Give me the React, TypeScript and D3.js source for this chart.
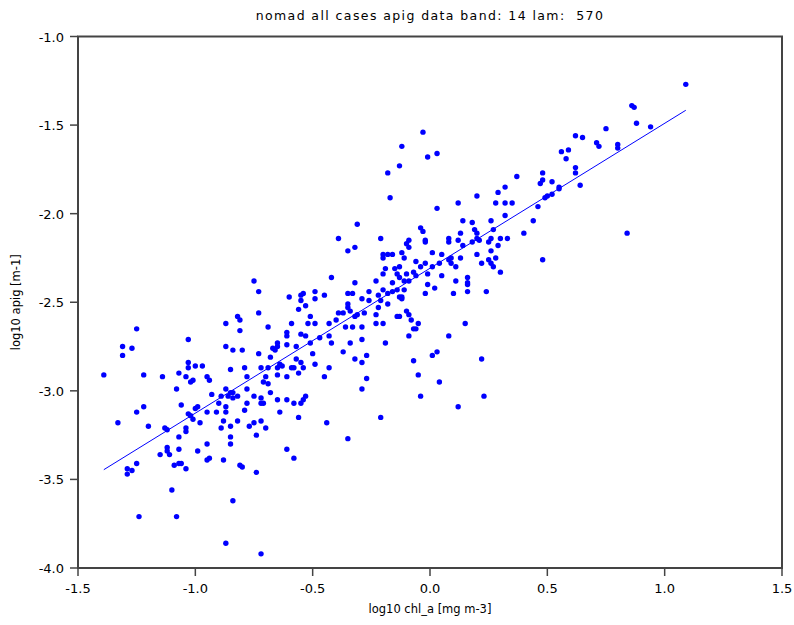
import React from 'react'
import * as d3 from 'd3'

// log10 chl_a vs log10 apig
const SAMPLES: [number, number][] = [
  [-0.12, -1.62], [-0.13, -1.73], [-0.18, -1.77], [-0.17, -1.91], [-0.31, -2.06],
  [-0.39, -2.14], [-0.21, -2.14], [-0.03, -1.54], [-0.01, -1.68], [0.03, -1.66],
  [0.37, -1.79], [0.48, -1.77], [0.48, -1.81], [0.47, -1.83], [0.52, -1.82],
  [0.32, -1.85], [0.29, -1.88], [0.2, -1.9], [0.28, -1.94], [0.32, -1.94],
  [0.35, -1.94], [0.12, -1.94], [0.03, -1.97], [0.46, -1.96], [0.49, -1.91],
  [0.5, -1.9], [0.52, -1.89], [0.32, -2.01], [0.14, -2.04], [0.18, -2.05],
  [0.26, -2.04], [0.27, -2.09], [0.19, -2.09], [0.2, -2.11], [-0.04, -2.08],
  [-0.03, -2.1], [0.13, -2.11], [0.44, -2.04], [0.4, -2.11], [0.08, -2.14],
  [-0.02, -2.15], [-0.09, -2.15], [0.26, -2.14], [0.3, -2.14], [0.33, -2.14],
  [0.2, -2.14],
  [1.09, -1.27], [0.86, -1.39], [0.87, -1.4], [0.88, -1.49], [0.94, -1.51],
  [0.75, -1.52], [0.62, -1.56], [0.65, -1.57], [0.71, -1.6], [0.72, -1.62],
  [0.8, -1.61], [0.8, -1.63], [0.56, -1.65], [0.59, -1.64], [0.58, -1.69],
  [0.62, -1.74], [0.62, -1.77], [0.55, -1.85], [0.55, -1.86], [0.64, -1.84],
  [0.84, -2.11],
  [-1.25, -2.65], [-1.31, -2.75], [-1.27, -2.76], [-1.31, -2.8], [-1.39, -2.91],
  [-1.22, -2.91], [-1.14, -2.92], [-1.08, -2.99], [-1.03, -2.71], [-1.03, -2.84],
  [-1.03, -2.87], [-1.07, -2.9], [-1.04, -2.92], [-1.0, -2.86], [-0.97, -2.86],
  [-1.01, -2.94], [-1.02, -2.95], [-0.95, -2.92], [-0.94, -2.94], [-0.93, -3.02],
  [-0.87, -2.62], [-0.82, -2.58], [-0.81, -2.6], [-0.81, -2.66], [-0.87, -2.75],
  [-0.84, -2.77], [-0.8, -2.77], [-0.85, -2.88], [-0.87, -2.99], [-0.89, -3.03],
  [-0.86, -3.03], [-0.85, -3.01], [-0.84, -3.01], [-0.82, -3.03], [-0.84, -3.04],
  [-1.33, -3.18], [-1.25, -3.12], [-1.22, -3.09], [-1.2, -3.2], [-1.06, -3.08],
  [-1.13, -3.21], [-1.12, -3.22], [-1.25, -3.41], [-1.29, -3.44], [-1.29, -3.47],
  [-1.27, -3.45], [-1.15, -3.36], [-1.12, -3.32], [-1.12, -3.34], [-1.11, -3.36],
  [-1.07, -3.33], [-1.07, -3.26], [-1.04, -3.23], [-1.04, -3.21], [-1.03, -3.13],
  [-1.02, -3.14], [-1.01, -3.16], [-1.0, -3.1], [-0.99, -3.09], [-0.98, -3.18],
  [-1.09, -3.42], [-1.07, -3.41], [-1.06, -3.41], [-1.04, -3.44], [-0.99, -3.34],
  [-0.95, -3.3], [-0.95, -3.39], [-0.94, -3.38], [-0.95, -3.12], [-0.91, -3.12],
  [-0.9, -3.07], [-0.87, -3.09], [-0.87, -3.12], [-0.88, -3.17], [-0.89, -3.21],
  [-0.85, -3.2], [-0.85, -3.26], [-0.85, -3.3], [-0.88, -3.39], [-0.82, -3.17],
  [-0.81, -3.42], [-0.8, -3.43], [-1.1, -3.56], [-0.84, -3.62], [-1.24, -3.71],
  [-1.08, -3.71], [-0.87, -3.86], [-0.79, -3.11],
  [-0.78, -3.07], [-0.72, -3.07], [-0.71, -3.07], [-0.65, -3.05], [-0.61, -3.05],
  [-0.58, -3.07], [-0.55, -3.07], [-0.54, -3.05], [-0.64, -3.12], [-0.56, -3.15],
  [-0.44, -3.18], [-0.21, -3.15], [-0.75, -3.18], [-0.72, -3.17], [-0.77, -3.2],
  [-0.7, -3.21], [-0.74, -3.25], [-0.35, -3.27], [-0.61, -3.33], [-0.58, -3.38],
  [-0.74, -3.46], [-0.72, -3.92], [0.12, -3.09],
  [0.48, -2.26], [0.24, -2.44], [0.15, -2.62], [0.08, -2.69], [0.22, -2.82],
  [-0.07, -2.83], [0.01, -2.8], [0.03, -2.78], [-0.05, -2.91], [0.04, -2.95],
  [-0.04, -3.03], [0.23, -3.03], [-0.1, -2.55], [-0.09, -2.57], [-0.08, -2.6],
  [-0.05, -2.62], [-0.07, -2.65], [-0.06, -2.65], [-0.09, -2.69], [-0.13, -2.58],
  [-0.13, -2.47], [-0.12, -2.48],
  [-0.1, -2.17], [-0.09, -2.19], [-0.12, -2.22], [-0.11, -2.25], [-0.06, -2.27],
  [-0.02, -2.16], [0.01, -2.22], [0.05, -2.23], [0.08, -2.16], [0.12, -2.15],
  [0.14, -2.18], [0.18, -2.16], [0.21, -2.15], [0.25, -2.16], [0.29, -2.18],
  [0.26, -2.21], [0.2, -2.23], [0.25, -2.26], [0.28, -2.25], [0.22, -2.28],
  [0.26, -2.28], [0.27, -2.3], [0.3, -2.33], [0.13, -2.25], [0.09, -2.25],
  [0.09, -2.28], [0.11, -2.3], [0.08, -2.26], [0.04, -2.28], [0.01, -2.3],
  [-0.02, -2.28], [-0.04, -2.3], [-0.07, -2.33], [-0.1, -2.34], [-0.13, -2.3],
  [-0.13, -2.36], [-0.11, -2.38], [-0.09, -2.38], [-0.06, -2.35], [-0.01, -2.34],
  [0.05, -2.35], [0.11, -2.38], [0.16, -2.36], [0.16, -2.39], [0.16, -2.4],
  [-0.01, -2.4], [0.02, -2.42], [0.1, -2.45], [0.16, -2.44], [-0.02, -2.45],
  [-0.11, -2.43], [-0.12, -2.47],
  [-0.35, -2.21], [-0.32, -2.19], [-0.2, -2.23], [-0.2, -2.25], [-0.18, -2.23],
  [-0.16, -2.23], [-0.19, -2.31], [-0.2, -2.34], [-0.15, -2.31], [-0.14, -2.34],
  [-0.42, -2.36], [-0.23, -2.38], [-0.16, -2.39], [-0.75, -2.38], [-0.73, -2.44],
  [-0.73, -2.56], [-0.6, -2.47], [-0.55, -2.46], [-0.54, -2.45], [-0.55, -2.49],
  [-0.49, -2.44], [-0.49, -2.48], [-0.45, -2.46], [-0.53, -2.52], [-0.56, -2.54],
  [-0.35, -2.45], [-0.33, -2.45], [-0.32, -2.39], [-0.35, -2.51], [-0.35, -2.53],
  [-0.34, -2.55], [-0.29, -2.48], [-0.26, -2.44], [-0.26, -2.49], [-0.2, -2.43],
  [-0.22, -2.46], [-0.21, -2.49], [-0.18, -2.45], [-0.16, -2.44], [-0.18, -2.51],
  [-0.14, -2.43], [-0.22, -2.53], [-0.23, -2.62], [-0.2, -2.62], [-0.14, -2.58],
  [-0.23, -2.57], [-0.28, -2.56], [-0.31, -2.57], [-0.32, -2.58], [-0.37, -2.56],
  [-0.39, -2.56], [-0.4, -2.6], [-0.43, -2.62], [-0.36, -2.64], [-0.33, -2.64],
  [-0.29, -2.64], [-0.51, -2.58], [-0.52, -2.62], [-0.49, -2.62], [-0.59, -2.62],
  [-0.61, -2.67], [-0.61, -2.69], [-0.69, -2.64], [-0.47, -2.7], [-0.55, -2.68],
  [-0.53, -2.69], [-0.43, -2.69], [-0.42, -2.73], [-0.29, -2.71], [-0.34, -2.73],
  [-0.57, -2.75], [-0.61, -2.74], [-0.65, -2.73], [-0.65, -2.75], [-0.66, -2.77],
  [-0.67, -2.76], [-0.68, -2.81], [-0.73, -2.79], [-0.51, -2.73], [-0.5, -2.79],
  [-0.37, -2.78], [-0.19, -2.73], [-0.27, -2.8], [-0.32, -2.82], [-0.29, -2.84],
  [-0.57, -2.82], [-0.55, -2.84], [-0.64, -2.85], [-0.63, -2.86], [-0.65, -2.87],
  [-0.59, -2.87], [-0.58, -2.87], [-0.54, -2.87], [-0.49, -2.85], [-0.43, -2.87],
  [-0.72, -2.87], [-0.69, -2.87], [-0.79, -2.87], [-0.78, -2.92], [-0.56, -2.9],
  [-0.61, -2.92], [-0.65, -2.91], [-0.7, -2.92], [-0.71, -2.95], [-0.69, -2.96],
  [-0.45, -2.92], [-0.27, -2.93], [-0.29, -2.99], [-0.78, -2.99], [-0.68, -3.01],
  [-0.75, -3.03], [-0.72, -3.04], [-0.53, -3.03]
]

// fitted line: apig = slope * chl + intercept
const FIT = [0.818, -2.308]

const X_TICKS = [-1.5, -1.0, -0.5, 0.0, 0.5, 1.0, 1.5]
const Y_TICKS = [-1.0, -1.5, -2.0, -2.5, -3.0, -3.5, -4.0]

const TITLE = 'nomad all cases apig data band: 14 lam:  570'
const X_LABEL = 'log10 chl_a [mg m-3]'
const Y_LABEL = 'log10 apig [m-1]'

const W = 794
const H = 625
const margin = { top: 36.5, right: 12, bottom: 57, left: 78 }
const font = '"DejaVu Sans", Arial, sans-serif'
const axisColor = '#444'

export default function App() {
  const x = d3.scaleLinear().domain([-1.5, 1.5]).range([margin.left, W - margin.right])
  const y = d3.scaleLinear().domain([-4.0, -1.0]).range([H - margin.bottom, margin.top])

  const xs = SAMPLES.map(d => d[0])
  const x0 = d3.min(xs) as number
  const x1 = d3.max(xs) as number
  const fitLine = d3.line<number>()
    .x(v => x(v))
    .y(v => y(FIT[0] * v + FIT[1]))

  const x0px = x.range()[0]
  const x1px = x.range()[1]
  const y0px = y.range()[0]
  const y1px = y.range()[1]

  return (
    <svg
      width={W}
      height={H}
      style={{ position: 'absolute', left: 0, top: 0, background: '#fff' }}
      fontFamily={font}
    >
      <text
        x={(x0px + x1px) / 2}
        y={20}
        textAnchor="middle"
        fontSize={12.5}
        letterSpacing={1.4}
        fill="#000"
        style={{ whiteSpace: 'pre' }}
      >
        {TITLE}
      </text>

      {SAMPLES.map((d, i) =>
        <circle key={i} cx={x(d[0])} cy={y(d[1])} r={2.7} fill="#0000ff" />
      )}

      <path d={fitLine([x0, x1]) || ''} stroke="#0000ff" strokeWidth={1} fill="none" />

      <rect
        x={x0px}
        y={y1px}
        width={x1px - x0px}
        height={y0px - y1px}
        fill="none"
        stroke={axisColor}
        strokeWidth={2}
      />

      {X_TICKS.map(t =>
        <g key={'x' + t}>
          <line x1={x(t)} x2={x(t)} y1={y0px} y2={y0px + 8} stroke={axisColor} strokeWidth={1.5} />
          <text x={x(t)} y={y0px + 25} textAnchor="middle" fontSize={13} fill="#000">
            {t.toFixed(1)}
          </text>
        </g>
      )}

      {Y_TICKS.map(t =>
        <g key={'y' + t}>
          <line x1={x0px - 8} x2={x0px} y1={y(t)} y2={y(t)} stroke={axisColor} strokeWidth={1.5} />
          <text x={x0px - 14} y={y(t) + 5} textAnchor="end" fontSize={13} fill="#000">
            {t.toFixed(1)}
          </text>
        </g>
      )}

      <text x={(x0px + x1px) / 2} y={613} textAnchor="middle" fontSize={11.5} fill="#000">
        {X_LABEL}
      </text>
      <text
        transform={`translate(20,${(y0px + y1px) / 2}) rotate(-90)`}
        textAnchor="middle"
        fontSize={11.5}
        fill="#000"
      >
        {Y_LABEL}
      </text>
    </svg>
  )
}
